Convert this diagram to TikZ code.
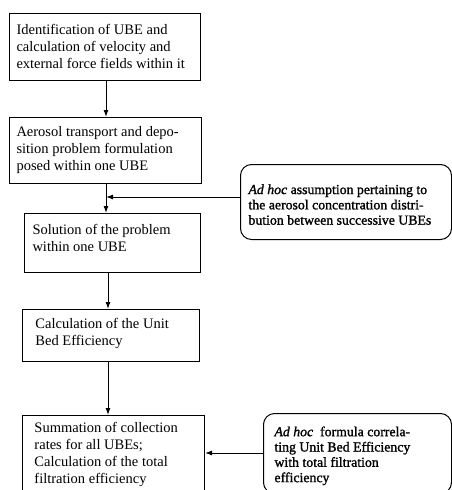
\documentclass[tikz,border=0pt]{standalone}
\usepackage{fontspec}
\setmainfont{Liberation Serif}
\newfontfamily\rbfont[FakeBold=1.3]{Liberation Serif}
\usetikzlibrary{arrows.meta}
\newcommand\bxt[5]{\parbox[c][#2][t]{#1}{\raggedright\setlength{\leftskip}{#3}\vspace*{#4}#5}}
\tikzset{
  mainbox/.style={draw, line width=1pt, inner sep=0pt, anchor=north west,
    font=\fontsize{14.5}{16.8}\selectfont},
  sidebox/.style={draw, line width=1pt, inner sep=0pt, anchor=north west,
    rounded corners=11pt, font=\rbfont\fontsize{13.8}{15.3}\selectfont},
  arr/.style={line width=1pt, -{Latex[length=7pt,width=5pt]}},
}
\begin{document}
\begin{tikzpicture}[x=1pt,y=-1pt]
\useasboundingbox (0,0) rectangle (452,490);
\clip (0,0) rectangle (452,490);
\node[mainbox] (b1) at (9,13) {\bxt{191pt}{67pt}{7pt}{11pt}{Identification of UBE and\\calculation of velocity and\\external force fields within it}};
\node[mainbox] (b2) at (9,117) {\bxt{192pt}{66pt}{7pt}{9pt}{Aerosol transport and depo-\\sition problem formulation\\posed within one UBE}};
\node[mainbox] (b3) at (24,213) {\bxt{176pt}{59pt}{8pt}{11pt}{Solution of the problem\\within one UBE}};
\node[mainbox] (b4) at (22,309) {\bxt{177pt}{52pt}{13pt}{9pt}{Calculation of the Unit\\Bed Efficiency}};
\node[mainbox] (b5) at (22,415) {\bxt{182pt}{90pt}{12pt}{7pt}{Summation of collection\\rates for all UBEs;\\Calculation of the total\\filtration efficiency}};
\node[sidebox] (r1) at (240,164) {\bxt{211pt}{75pt}{8pt}{20pt}{\textit{Ad hoc} assumption pertaining to\\the aerosol concentration distri-\\bution between successive UBEs}};
\node[sidebox] (r2) at (263,413) {\bxt{188pt}{80pt}{11pt}{13pt}{\textit{Ad hoc}\ \ formula correla-\\ting Unit Bed Efficiency\\with total filtration\\efficiency}};
\coordinate (col) at (106,0);
\coordinate (col2) at (108,0);
\coordinate (j1) at (106,197);
\coordinate (j2) at (204,453);
\draw[arr] (b1.south -| col) -- (b2.north -| col);
\draw[arr] (b2.south -| col) -- (b3.north -| col);
\draw[arr] (b3.south -| col2) -- (b4.north -| col2);
\draw[arr] (b4.south -| col2) -- (b5.north -| col2);
\draw[arr] (r1.west |- j1) -- (j1);
\draw[arr] (r2.west |- j2) -- (b5.east |- j2);
\end{tikzpicture}
\end{document}
